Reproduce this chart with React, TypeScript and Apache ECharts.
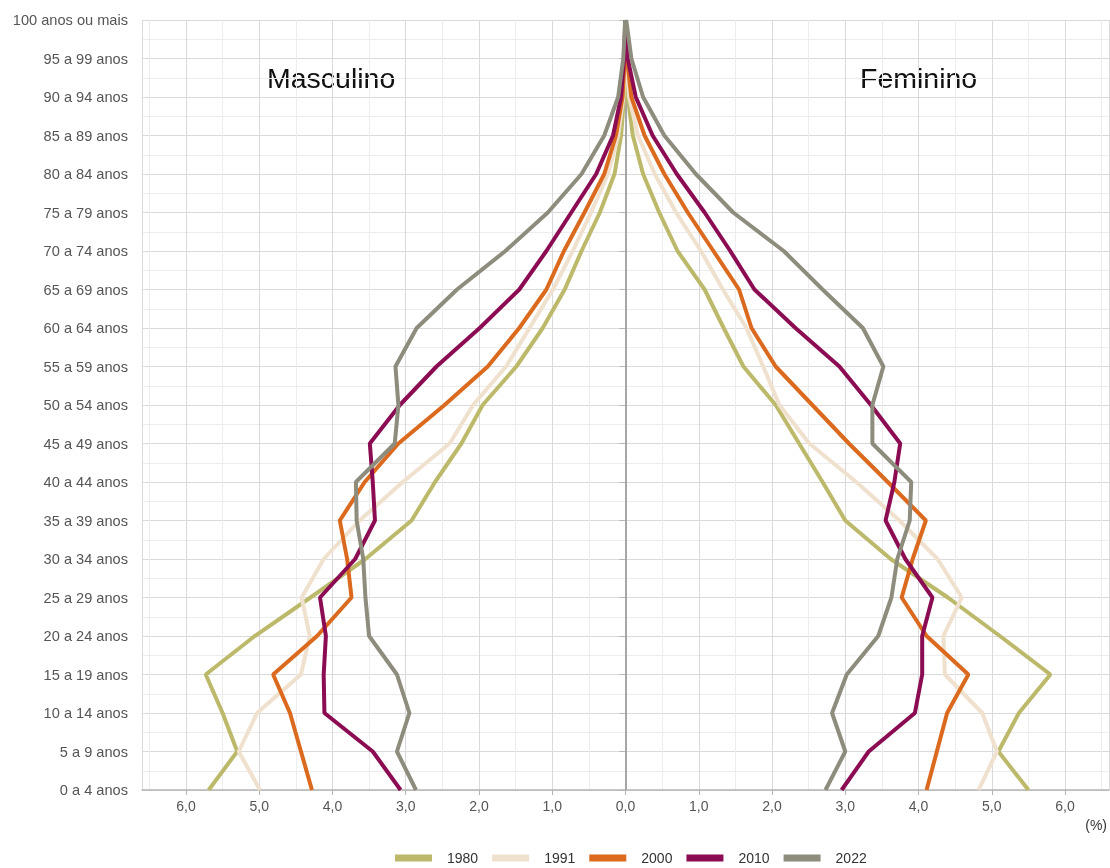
import React, { useEffect, useRef } from "react";
import * as echarts from "echarts";

const categories = [
  "0 a 4 anos", "5 a 9 anos", "10 a 14 anos", "15 a 19 anos", "20 a 24 anos",
  "25 a 29 anos", "30 a 34 anos", "35 a 39 anos", "40 a 44 anos", "45 a 49 anos",
  "50 a 54 anos", "55 a 59 anos", "60 a 64 anos", "65 a 69 anos", "70 a 74 anos",
  "75 a 79 anos", "80 a 84 anos", "85 a 89 anos", "90 a 94 anos", "95 a 99 anos",
  "100 anos ou mais",
];

const years = ["1980", "1991", "2000", "2010", "2022"];
const colors = ["#bdb96b", "#efe1cd", "#db6a1e", "#8b0c52", "#8d8c7d"];

// Masculino (%)
const male1980 = [5.69, 5.3, 5.5, 5.73, 5.06, 4.3, 3.55, 2.92, 2.6, 2.24, 1.95, 1.49, 1.13, 0.83, 0.6, 0.35, 0.15, 0.06, 0.02, 0.005, 0.001];
const male1991 = [4.99, 5.28, 5.03, 4.43, 4.31, 4.42, 4.12, 3.63, 3.04, 2.4, 2.08, 1.63, 1.31, 0.99, 0.72, 0.47, 0.24, 0.1, 0.03, 0.01, 0.001];
const male2000 = [4.28, 4.43, 4.58, 4.81, 4.21, 3.74, 3.8, 3.9, 3.56, 3.1, 2.47, 1.88, 1.45, 1.08, 0.84, 0.56, 0.29, 0.13, 0.04, 0.01, 0.001];
const male2010 = [3.07, 3.45, 4.11, 4.12, 4.09, 4.17, 3.69, 3.42, 3.45, 3.49, 3.08, 2.58, 1.99, 1.45, 1.08, 0.74, 0.4, 0.17, 0.06, 0.02, 0.002];
const male2022 = [2.86, 3.12, 2.95, 3.12, 3.5, 3.55, 3.58, 3.67, 3.68, 3.15, 3.1, 3.14, 2.85, 2.3, 1.64, 1.06, 0.6, 0.29, 0.1, 0.03, 0.005];

// Feminino (%)
const female1980 = [5.5, 5.09, 5.37, 5.8, 5.11, 4.4, 3.62, 3.0, 2.69, 2.37, 2.05, 1.61, 1.34, 1.08, 0.71, 0.46, 0.24, 0.1, 0.03, 0.01, 0.001];
const female1991 = [4.82, 5.07, 4.87, 4.36, 4.34, 4.59, 4.26, 3.74, 3.15, 2.51, 2.1, 1.88, 1.65, 1.33, 1.03, 0.69, 0.4, 0.17, 0.05, 0.01, 0.001];
const female2000 = [4.11, 4.25, 4.39, 4.68, 4.11, 3.77, 3.92, 4.1, 3.58, 3.05, 2.55, 2.05, 1.72, 1.55, 1.2, 0.85, 0.53, 0.26, 0.08, 0.02, 0.002];
const female2010 = [2.95, 3.32, 3.95, 4.05, 4.05, 4.19, 3.82, 3.55, 3.67, 3.75, 3.35, 2.92, 2.32, 1.76, 1.43, 1.08, 0.7, 0.37, 0.14, 0.03, 0.003];
const female2022 = [2.73, 3.0, 2.82, 3.02, 3.45, 3.63, 3.71, 3.88, 3.9, 3.37, 3.37, 3.52, 3.24, 2.69, 2.16, 1.47, 0.96, 0.53, 0.24, 0.08, 0.01];

const maleSeries = [male1980, male1991, male2000, male2010, male2022];
const femaleSeries = [female1980, female1991, female2000, female2010, female2022];

const FONT = "'Liberation Sans', Arial, sans-serif";

export default function App() {
  const ref = useRef<HTMLDivElement>(null);

  useEffect(() => {
    if (!ref.current) return;
    const chart = echarts.init(ref.current, null, { renderer: "svg" });

    const series: any[] = [];
    years.forEach((y, k) => {
      series.push({
        name: y,
        type: "line",
        symbol: "none",
        lineStyle: { width: 4, color: colors[k] },
        itemStyle: { color: colors[k] },
        data: maleSeries[k].map((v, i) => [-v, i]),
        ...(k === 0
          ? {
              markLine: {
                silent: true,
                symbol: "none",
                label: { show: false },
                lineStyle: { color: "#a6a6a6", width: 2, type: "solid" },
                data: [{ xAxis: 0 }],
                z: 1,
              },
            }
          : {}),
      });
      series.push({
        name: y,
        type: "line",
        symbol: "none",
        lineStyle: { width: 4, color: colors[k] },
        itemStyle: { color: colors[k] },
        data: femaleSeries[k].map((v, i) => [v, i]),
      });
    });

    chart.setOption({
      animation: false,
      textStyle: { fontFamily: FONT },
      grid: { left: 142, right: 1, top: 20, bottom: 78, containLabel: false },
      xAxis: {
        type: "value",
        min: -6.6,
        max: 6.6,
        splitNumber: 13,
        minInterval: 1,
        maxInterval: 1,
        axisLine: { show: true, lineStyle: { color: "#b5b5b5", width: 1.5 } },
        axisTick: { show: true, length: 5, lineStyle: { color: "#b5b5b5" } },
        axisLabel: {
          showMinLabel: false,
          showMaxLabel: false,
          color: "#555",
          fontSize: 14,
          margin: 9,
          fontFamily: FONT,
          formatter: (v: number) =>
            Math.abs(v - Math.round(v)) < 1e-6 ? Math.abs(v).toFixed(1).replace(".", ",") : "",
        },
        splitLine: { show: true, lineStyle: { color: "#dadada", width: 1 } },
        minorTick: { show: false, splitNumber: 2 },
        minorSplitLine: { show: true, lineStyle: { color: "#ededed", width: 1 } },
      },
      yAxis: {
        type: "value",
        min: 0,
        max: 20,
        interval: 1,
        axisLine: { show: true, lineStyle: { color: "#b5b5b5", width: 1.5 } },
        axisTick: { show: true, length: 6, lineStyle: { color: "#b5b5b5" } },
        axisLabel: {
          color: "#555",
          fontSize: 14.6,
          margin: 14,
          fontFamily: FONT,
          formatter: (v: number) => categories[Math.round(v)] ?? "",
        },
        splitLine: { show: true, lineStyle: { color: "#dadada", width: 1 } },
        minorTick: { show: false, splitNumber: 2 },
        minorSplitLine: { show: true, lineStyle: { color: "#ededed", width: 1 } },
      },
      legend: {
        data: years,
        left: 395,
        top: 851,
        padding: 0,
        icon: "rect",
        itemWidth: 37,
        itemHeight: 7,
        itemGap: 14,
        selectedMode: false,
        textStyle: { color: "#333", fontSize: 14, fontFamily: FONT, padding: [0, 0, 0, 10] },
      },
      graphic: [
        {
          type: "text",
          left: 267,
          top: 63,
          style: { text: "Masculino", fontSize: 28.5, fill: "#111", stroke: "none", lineWidth: 0, fontFamily: FONT },
        },
        {
          type: "text",
          left: 860,
          top: 63,
          style: { text: "Feminino", fontSize: 28.5, fill: "#111", stroke: "none", lineWidth: 0, fontFamily: FONT },
        },
        {
          type: "text",
          right: 3,
          top: 818,
          style: { text: "(%)", fontSize: 14, fill: "#333", stroke: "none", lineWidth: 0, fontFamily: FONT },
        },
      ],
      series,
    });

    return () => chart.dispose();
  }, []);

  return (
    <div
      ref={ref}
      style={{ position: "fixed", left: 0, top: 0, width: 1110, height: 868 }}
    />
  );
}
